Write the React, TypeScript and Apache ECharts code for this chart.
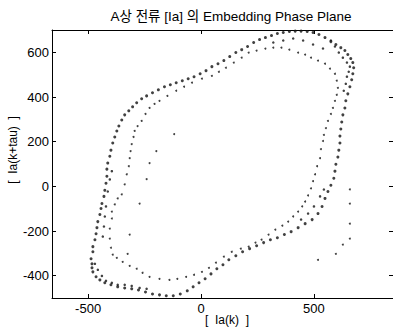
import React, { useEffect, useRef } from "react";
import * as echarts from "echarts";

const titleText = "A상 전류 [Ia] 의 Embedding Phase Plane";
const xLabel = "[  Ia(k)  ]";
const yLabel = "[  Ia(k+tau)  ]";
const xTicks = [-500, 0, 500];
const yTicks = [-400, -200, 0, 200, 400, 600];

// outer (dense) trajectory, [Ia(k), Ia(k+tau)]
const outerTrace: number[][] = [
  [-483, -347], [-487, -324], [-479, -293], [-479, -270], [-470, -239], [-465, -212],
  [-461, -185], [-457, -158], [-448, -126], [-443, -99], [-439, -77], [-430, -45],
  [-426, -18], [-421, 14], [-417, 45], [-417, 77], [-413, 104], [-404, 135],
  [-399, 162], [-391, 194], [-382, 221], [-373, 248], [-364, 270], [-351, 297],
  [-338, 320], [-320, 338], [-303, 356], [-285, 374], [-263, 392], [-241, 405],
  [-215, 419], [-189, 432], [-162, 446], [-136, 455], [-110, 464], [-83, 473],
  [-57, 482], [-31, 491], [-4, 504], [22, 518], [48, 536], [75, 549],
  [101, 563], [127, 581], [154, 599], [180, 612], [206, 626], [233, 644],
  [259, 657], [285, 666], [312, 675], [338, 684], [364, 689], [391, 693],
  [417, 695], [443, 695], [470, 693], [496, 689], [522, 680], [549, 666],
  [575, 648], [597, 635], [619, 621], [637, 608], [650, 590], [663, 572],
  [672, 554], [676, 531], [672, 504], [667, 477], [659, 446], [650, 414],
  [641, 383], [637, 351], [628, 320], [623, 288], [619, 257], [615, 225],
  [615, 194], [610, 162], [606, 131], [597, 99], [593, 68], [588, 36],
  [575, 5], [562, -23], [549, -54], [536, -90], [518, -122], [492, -149],
  [461, -167], [430, -185], [399, -203], [369, -216], [338, -230], [307, -239],
  [277, -252], [246, -266], [215, -279], [184, -293], [154, -311], [123, -329],
  [97, -351], [70, -369], [44, -392], [18, -414], [-9, -432], [-35, -450],
  [-61, -468], [-92, -482], [-123, -490], [-154, -490], [-184, -486], [-215, -482],
  [-246, -473], [-277, -464], [-307, -459], [-338, -455], [-369, -450], [-399, -441],
  [-426, -432], [-448, -419], [-465, -405], [-479, -383], [-483, -365],
];

// second pass of the outer trajectory (dense clusters)
const outerTrace2: number[][] = [
  [575, 653], [593, 626], [610, 599], [628, 576], [646, 554], [659, 536],
  [654, 513], [646, 491], [641, 459], [632, 428],
  [320, 644], [364, 653], [408, 662], [452, 653], [496, 635], [540, 617],
  [-470, -347], [-457, -374], [-439, -401], [-421, -423], [-395, -432], [-369, -441],
  [-338, -441], [-307, -446], [-272, -455], [-241, -459],
  [-435, -225], [-430, -180], [-426, -135], [-421, -90], [-413, -23], [-404, 31], [-395, 68],
  [443, -149], [474, -122], [500, -90], [527, -45], [544, -14],
];

// inner (sparse) trajectory
const innerTrace: number[][] = [
  [-404, -234], [-404, -189], [-395, -144], [-395, -113], [-382, -81], [-369, -54],
  [-351, -36], [-338, 9], [-329, 54], [-320, 90], [-316, 126], [-312, 158],
  [-307, 189], [-299, 221], [-294, 248], [-281, 270], [-263, 293], [-246, 324],
  [-228, 351], [-206, 369], [-184, 383], [-149, 405], [-110, 428], [-75, 446],
  [-40, 464], [4, 482], [48, 495], [79, 513], [110, 531], [145, 554],
  [180, 576], [211, 599], [246, 608], [285, 617], [320, 621], [356, 621],
  [391, 612], [430, 599], [461, 590], [487, 576], [518, 563], [549, 549],
  [571, 527], [593, 504], [601, 473], [606, 441], [601, 410], [593, 383],
  [584, 351], [575, 324], [562, 293], [553, 261], [544, 230], [540, 203],
  [531, 167], [527, 126], [514, 90], [505, 54], [496, 23], [487, -9],
  [474, -41], [461, -68], [448, -90], [430, -113], [408, -135], [386, -158],
  [360, -176], [329, -194], [299, -216], [268, -239], [241, -252], [211, -270],
  [176, -279], [136, -293], [101, -315], [66, -342], [35, -365], [4, -383],
  [-31, -396], [-66, -405], [-105, -414], [-140, -419], [-184, -414], [-228, -405],
  [-259, -387], [-285, -369], [-316, -356], [-347, -338], [-373, -320], [-391, -306],
  [-399, -275],
];

// isolated points
const strayPoints: number[][] = [
  [659, -14], [659, -77], [659, -167], [659, -234], [628, -261], [597, -302], [518, -329],
  [-119, 234], [-198, 158], [-228, 104], [-272, -77], [-316, -216], [-325, -302], [-241, 32],
];

const FONT = "'Liberation Sans', Arial, 'Noto Sans CJK KR', sans-serif";

export default function App() {
  const ref = useRef<HTMLDivElement>(null);
  useEffect(() => {
    if (!ref.current) return;
    const chart = echarts.init(ref.current, null, { renderer: "svg" });
    const axisCommon = {
      type: "value" as const,
      axisLine: { show: true, onZero: false, lineStyle: { color: "#000", width: 1 } },
      splitLine: { show: false },
    };
    const dotSeries = (data: number[][], size: number) => ({
      type: "scatter" as const,
      data,
      symbol: "circle",
      symbolSize: size,
      itemStyle: { color: "#111" },
      xAxisIndex: 0,
      yAxisIndex: 0,
      silent: true,
    });
    chart.setOption({
      animation: false,
      backgroundColor: "#fff",
      grid: { left: 52, right: -3, top: 30, bottom: 36, containLabel: false },
      xAxis: [
        {
          ...axisCommon,
          position: "bottom",
          min: -660,
          max: 850,
          axisTick: { show: true, inside: true, length: 4, customValues: xTicks, lineStyle: { color: "#000" } },
          axisLabel: { customValues: xTicks, color: "#000", fontSize: 13, fontFamily: FONT, margin: 4 },
        },
        {
          ...axisCommon,
          position: "top",
          min: -660,
          max: 850,
          axisTick: { show: true, inside: true, length: 4, customValues: xTicks, lineStyle: { color: "#000" } },
          axisLabel: { show: false },
        },
      ],
      yAxis: [
        {
          ...axisCommon,
          position: "left",
          min: -500,
          max: 700,
          axisTick: { show: true, inside: true, length: 4, customValues: yTicks, lineStyle: { color: "#000" } },
          axisLabel: { customValues: yTicks, color: "#000", fontSize: 13, fontFamily: FONT, margin: 3 },
        },
        {
          ...axisCommon,
          position: "right",
          min: -500,
          max: 700,
          axisTick: { show: true, inside: true, length: 4, customValues: yTicks, lineStyle: { color: "#000" } },
          axisLabel: { show: false },
        },
      ],
      series: [
        dotSeries(innerTrace, 2),
        dotSeries(strayPoints, 2),
        dotSeries(outerTrace2, 2.5),
        dotSeries(outerTrace, 3),
      ],
      graphic: [
        {
          type: "text",
          x: 231,
          y: 16,
          style: { text: titleText, fill: "#000", fontSize: 13.5, fontFamily: FONT, textAlign: "center", textVerticalAlign: "middle" },
        },
        {
          type: "text",
          x: 227,
          y: 320,
          style: { text: xLabel, fill: "#000", fontSize: 12, fontFamily: FONT, textAlign: "center", textVerticalAlign: "middle" },
        },
        {
          type: "text",
          x: 13,
          y: 150,
          rotation: Math.PI / 2,
          style: { text: yLabel, fill: "#000", fontSize: 12, fontFamily: FONT, textAlign: "center", textVerticalAlign: "middle" },
        },
      ],
    });
    return () => chart.dispose();
  }, []);
  return (
    <div style={{ position: "fixed", left: 0, top: 0, width: 393, height: 334, overflow: "hidden", background: "#fff" }}>
      <div ref={ref} style={{ width: 393, height: 334 }} />
    </div>
  );
}
